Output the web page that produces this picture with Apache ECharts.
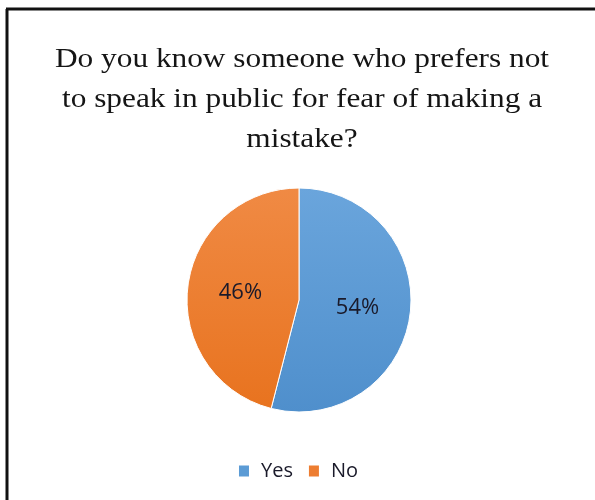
<!DOCTYPE html>
<html><head><meta charset="utf-8">
<script src="https://cdn.jsdelivr.net/npm/echarts@6/dist/echarts.min.js"></script>
<style>html,body{margin:0;padding:0;background:#fff}#c{width:595px;height:500px}</style>
</head><body><div id="c"></div>
<script>
const titleText = 'Do you know someone who prefers not\nto speak in public for fear of making a\nmistake?';
const categories = ['Yes', 'No'];
const values = [54, 46];
const colors = [
  new echarts.graphic.LinearGradient(0, 0, 0, 1, [{offset: 0, color: '#6aa5dc'}, {offset: 1, color: '#4f8fcc'}]),
  new echarts.graphic.LinearGradient(0, 0, 0, 1, [{offset: 0, color: '#f08a44'}, {offset: 1, color: '#e8731f'}])
];
const legendColors = ['#5b9bd5', '#ed7d31'];
const chart = echarts.init(document.getElementById('c'), null, {renderer: 'canvas'});
chart.setOption({
  animation: false,
  backgroundColor: '#fff',
  legend: {
    bottom: 14, left: 'center', itemWidth: 12, itemHeight: 13, itemGap: 14,
    icon: 'rect',
    textStyle: {fontFamily: 'Open Sans', fontSize: 20, color: '#1a1a2a', padding: [0, 0, 0, 6]},
    data: categories.map((c, i) => ({name: c, itemStyle: {color: legendColors[i]}}))
  },
  graphic: [
    {type: 'line', shape: {x1: 7, y1: 9, x2: 7, y2: 500}, style: {stroke: '#111', lineWidth: 3}},
    {type: 'line', shape: {x1: 6, y1: 9, x2: 595, y2: 9}, style: {stroke: '#111', lineWidth: 3}},
    {type: 'text', x: 302, y: 40, scaleX: 1.16, style: {text: titleText, align: 'center', verticalAlign: 'top',
      fontFamily: 'Liberation Serif', fontSize: 27, lineHeight: 40, fill: '#151515'}}
  ],
  series: [{
    type: 'pie', center: [299, 300], radius: 112, startAngle: 90, clockwise: true,
    label: {position: 'inside', formatter: '{d}%', fontFamily: 'Open Sans', fontSize: 22, color: '#1a1a2a'},
    labelLine: {show: false},
    itemStyle: {borderColor: '#fff', borderWidth: 1},
    data: categories.map((c, i) => ({name: c, value: values[i], itemStyle: {color: colors[i]}}))
  }]
});
</script></body></html>
